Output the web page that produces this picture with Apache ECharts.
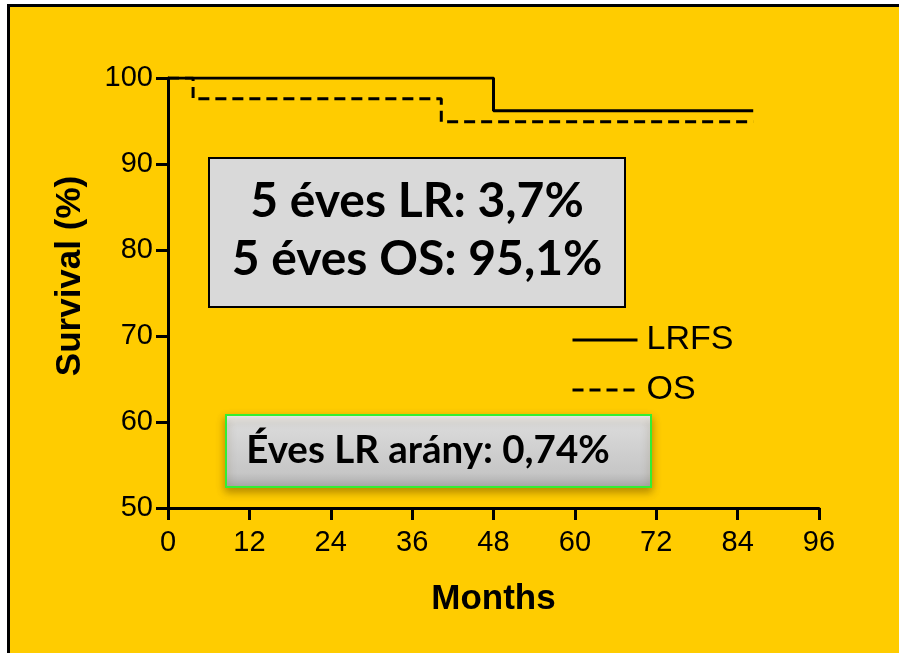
<!DOCTYPE html>
<html>
<head>
<meta charset="utf-8">
<script src="https://cdn.jsdelivr.net/npm/echarts@6/dist/echarts.min.js"></script>
<style>
  html, body { margin: 0; padding: 0; background: #fff; }
  #chart { width: 899px; height: 653px; }
</style>
</head>
<body>
<div id="chart"></div>
<script>
// Kaplan-Meier steps
const lrfsMonths = [0, 48, 86.3];
const lrfsSurvival = [100, 96.2, 96.2];
const osMonths = [0, 3.7, 40.3, 86.3];
const osSurvival = [100, 97.6, 94.9, 94.9];

const xTicks = [0, 12, 24, 36, 48, 60, 72, 84, 96];
const yTicks = [50, 60, 70, 80, 90, 100];

const boxLines = ["5 éves LR: 3,7%", "5 éves OS: 95,1%"];
const rateText = "Éves LR arány: 0,74%";

const tickFont = "'Liberation Sans', Arial, sans-serif";
const boxFont = "Lato, 'Open Sans', sans-serif";

const chart = echarts.init(document.getElementById("chart"));

const option = {
  backgroundColor: "#fff",
  animation: false,
  grid: { left: 168, right: 80, top: 78, bottom: 145 },
  legend: {
    orient: "vertical",
    left: 566,
    top: 318,
    itemWidth: 65,
    itemHeight: 14,
    itemGap: 16,
    data: ["LRFS", "OS"],
    itemStyle: { opacity: 0 },
    lineStyle: { width: 3 },
    textStyle: {
      fontFamily: tickFont,
      fontSize: 34,
      lineHeight: 34,
      color: "#000",
      padding: [0, 0, 0, 4],
    },
  },
  xAxis: {
    type: "value",
    min: xTicks[0],
    max: xTicks[xTicks.length - 1],
    interval: 12,
    name: "Months",
    nameLocation: "middle",
    nameGap: 74,
    nameTextStyle: {
      fontFamily: tickFont,
      fontSize: 35,
      fontWeight: "bold",
      color: "#000",
      verticalAlign: "top",
    },
    axisLine: { lineStyle: { color: "#000", width: 3 } },
    axisTick: { length: 12, lineStyle: { color: "#000", width: 3 } },
    axisLabel: { fontFamily: tickFont, fontSize: 29, color: "#000", margin: 20 },
    splitLine: { show: false },
  },
  yAxis: {
    type: "value",
    min: yTicks[0],
    max: yTicks[yTicks.length - 1],
    interval: 10,
    axisLine: { show: true, lineStyle: { color: "#000", width: 3 } },
    axisTick: { show: true, length: 12, lineStyle: { color: "#000", width: 3 } },
    axisLabel: { fontFamily: tickFont, fontSize: 29, color: "#000", margin: 15 },
    splitLine: { show: false },
  },
  series: [
    {
      name: "LRFS",
      type: "line",
      step: "end",
      symbol: "none",
      data: lrfsMonths.map((m, i) => [m, lrfsSurvival[i]]),
      lineStyle: { color: "#000", width: 3 },
      itemStyle: { color: "#000" },
      z: 3,
    },
    {
      name: "OS",
      type: "line",
      step: "end",
      symbol: "none",
      data: osMonths.map((m, i) => [m, osSurvival[i]]),
      lineStyle: { color: "#000", width: 3, type: [11, 6] },
      itemStyle: { color: "#000" },
      z: 2,
    },
  ],
  graphic: [
    {
      type: "rect",
      z: -10,
      shape: { x: 8.5, y: 5.5, width: 1000, height: 1000 },
      style: { fill: "#FFCC00", stroke: "#000", lineWidth: 3 },
    },
    {
      type: "text",
      x: 70,
      y: 276,
      rotation: Math.PI / 2,
      style: {
        text: "Survival (%)",
        fontFamily: tickFont,
        fontSize: 35,
        fontWeight: "bold",
        fill: "#000",
        align: "center",
        verticalAlign: "middle",
      },
    },
    // summary box
    {
      type: "rect",
      z: 10,
      shape: { x: 209, y: 158, width: 416, height: 149 },
      style: { fill: "#D9D9D9", stroke: "#000", lineWidth: 2 },
    },
    {
      type: "text",
      z: 11,
      x: 417,
      y: 202,
      style: {
        text: boxLines[0],
        fontFamily: boxFont,
        fontSize: 48,
        fontWeight: "bold",
        fill: "#000",
        align: "center",
        verticalAlign: "middle",
      },
    },
    {
      type: "text",
      z: 11,
      x: 417,
      y: 260,
      style: {
        text: boxLines[1],
        fontFamily: boxFont,
        fontSize: 48,
        fontWeight: "bold",
        fill: "#000",
        align: "center",
        verticalAlign: "middle",
      },
    },
    // annual rate bevel button
    {
      type: "rect",
      z: 10,
      shape: { x: 226, y: 415, width: 425, height: 72 },
      style: {
        fill: new echarts.graphic.LinearGradient(0, 0, 0, 1, [
          { offset: 0, color: "#F8F8F8" },
          { offset: 0.15, color: "#DADADA" },
          { offset: 0.8, color: "#C6C6C6" },
          { offset: 1, color: "#A8A8A8" },
        ]),
        stroke: "#33EE33",
        lineWidth: 2,
        shadowBlur: 8,
        shadowOffsetY: 4,
        shadowColor: "rgba(90, 60, 0, 0.45)",
      },
    },
    {
      type: "text",
      z: 11,
      x: 428,
      y: 451,
      style: {
        text: rateText,
        fontFamily: boxFont,
        fontSize: 38.5,
        fontWeight: "bold",
        fill: "#000",
        align: "center",
        verticalAlign: "middle",
      },
    },
  ],
};

chart.setOption(option);
</script>
</body>
</html>
